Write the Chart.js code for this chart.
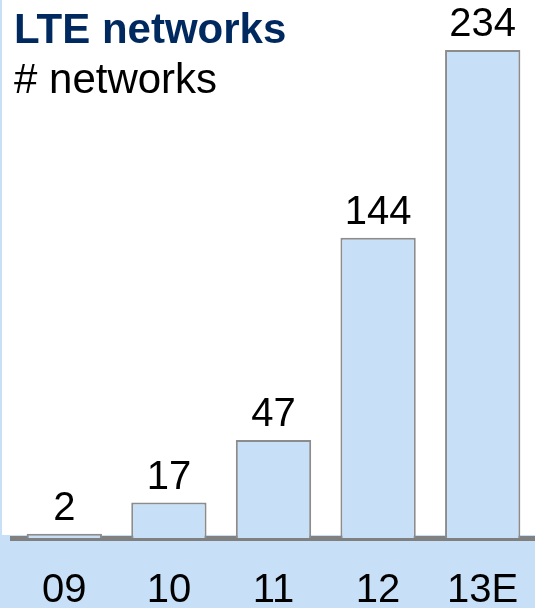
<!DOCTYPE html>
<html>
<head>
<meta charset="utf-8">
<script src="https://cdn.jsdelivr.net/npm/chart.js@4"></script>
<style>
  html, body { margin: 0; padding: 0; background: #fff; }
  #wrap { position: relative; width: 535px; height: 608px; overflow: hidden; }
  #chart { position: absolute; left: 0; top: 0; }
  .head { position: absolute; left: 14px; font-family: "Liberation Sans", Arial, sans-serif; font-size: 42px; line-height: 42px; white-space: nowrap; }
  #title { top: 8px; font-weight: bold; color: #00295f; }
  #sub { top: 58px; color: #000; }
</style>
</head>
<body>
<div id="wrap">
  <canvas id="chart" width="535" height="608"></canvas>
  <div id="title" class="head">LTE networks</div>
  <div id="sub" class="head"># networks</div>
</div>
<script>
const years = ["09", "10", "11", "12", "13E"];
const networks = [2, 17, 47, 144, 234];

const BAND = "#c8dff8";
const FONT = "'Liberation Sans', Arial, sans-serif";

// light blue strip along the left edge and under the axis
const backdrop = {
  id: "backdrop",
  beforeDraw(chart) {
    const { ctx, width, height, chartArea } = chart;
    ctx.save();
    ctx.fillStyle = BAND;
    ctx.fillRect(0, 0, 2, height);
    ctx.fillRect(0, chartArea.bottom - 3, width, height - chartArea.bottom + 3);
    ctx.restore();
  },
};

// value on top of each bar
const valueLabels = {
  id: "valueLabels",
  afterDatasetsDraw(chart) {
    const { ctx } = chart;
    const meta = chart.getDatasetMeta(0);
    ctx.save();
    ctx.font = `40px ${FONT}`;
    ctx.fillStyle = "#000";
    ctx.textAlign = "center";
    ctx.textBaseline = "alphabetic";
    meta.data.forEach((bar, i) => {
      ctx.fillText(String(networks[i]), bar.x, bar.y - 14);
    });
    ctx.restore();
  },
};

new Chart(document.getElementById("chart"), {
  type: "bar",
  data: {
    labels: years,
    datasets: [
      {
        data: networks,
        backgroundColor: BAND,
        borderColor: "#8c8c8c",
        borderWidth: 2,
        borderSkipped: "bottom",
        categoryPercentage: 1,
        barPercentage: 0.72,
      },
    ],
  },
  options: {
    responsive: false,
    animation: false,
    devicePixelRatio: 1,
    layout: { padding: { left: 12, right: 0, top: 0, bottom: 0 } },
    plugins: { legend: { display: false }, tooltip: { enabled: false } },
    scales: {
      y: { display: false, min: 0, max: 258 },
      x: {
        z: 1,
        grid: { display: false, drawTicks: false },
        border: { display: true, color: "#808080", width: 5 },
        ticks: { color: "#000", padding: 29, font: { family: FONT, size: 40 } },
        afterFit: (s) => {
          s.height = 70;
          s.paddingLeft = 0;
          s.paddingRight = 0;
        },
      },
    },
  },
  plugins: [backdrop, valueLabels],
});
</script>
</body>
</html>
